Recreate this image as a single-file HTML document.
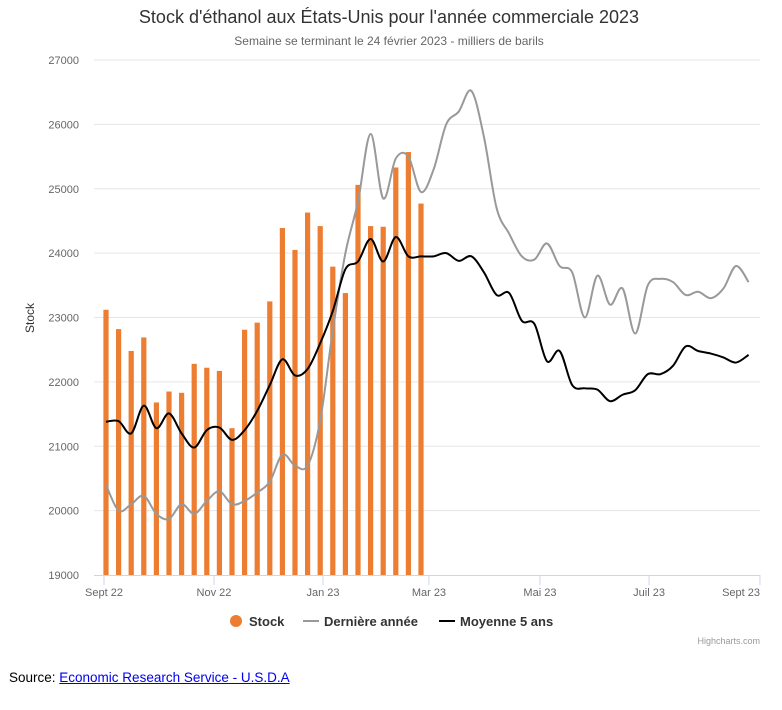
<!DOCTYPE html>
<html><head><meta charset="utf-8"><style>
body{margin:0;background:#fff;font-family:"Liberation Sans",sans-serif;}
#wrap{position:relative;width:782px;height:710px;}
svg text{font-family:"Liberation Sans",sans-serif;}
#src{position:absolute;left:9px;top:670px;font-size:13.5px;color:#000;}
#src a{color:#00e;text-decoration:underline;}
</style></head><body>
<div id="wrap">
<svg id="chart" width="782" height="660">
<text x="389" y="23" text-anchor="middle" font-size="18" fill="#333">Stock d'éthanol aux États-Unis pour l'année commerciale 2023</text>
<text x="389" y="45" text-anchor="middle" font-size="12" fill="#666">Semaine se terminant le 24 février 2023 - milliers de barils</text>
<text transform="translate(34,318) rotate(-90)" text-anchor="middle" font-size="12" fill="#333">Stock</text>
<g id="grid"></g><g id="bars"></g><g id="lines"></g><g id="axes"></g>
<g>
<g><circle cx="236" cy="621" r="6" fill="#ed7d31"/><text x="249" y="626" font-size="13" font-weight="bold" fill="#333">Stock</text></g>
<g><line x1="303" y1="621" x2="319" y2="621" stroke="#999" stroke-width="2"/><text x="324" y="626" font-size="13" font-weight="bold" fill="#333">Dernière année</text></g>
<g><line x1="439" y1="621" x2="455" y2="621" stroke="#000" stroke-width="2"/><text x="460" y="626" font-size="13" font-weight="bold" fill="#333">Moyenne 5 ans</text></g>
</g>
<text x="760" y="644" text-anchor="end" font-size="9" fill="#999">Highcharts.com</text>
</svg>
<div id="src">Source: <a>Economic Research Service - U.S.D.A</a></div>
</div>
<script>
const stock=[23120,22820,22480,22690,21680,21850,21830,22280,22220,22170,21280,22810,22920,23250,24390,24050,24630,24420,23790,23380,25060,24420,24410,25330,25570,24770];
const lastYear=[20400,20000,20100,20230,19950,19870,20100,19950,20150,20300,20100,20150,20280,20450,20870,20700,20700,21400,22800,24000,24800,25850,24850,25470,25500,24950,25300,26000,26200,26520,25800,24700,24300,23950,23900,24150,23800,23700,23000,23650,23200,23450,22750,23500,23600,23550,23350,23400,23300,23450,23800,23550];
const avg5=[21380,21390,21200,21630,21280,21510,21200,20980,21250,21290,21100,21250,21550,21950,22350,22100,22200,22600,23100,23750,23870,24220,23870,24250,23950,23950,23950,24000,23880,23950,23700,23350,23380,22950,22900,22320,22480,21950,21900,21880,21700,21800,21870,22120,22120,22250,22550,22480,22440,22380,22300,22420];
const yTicks=[19000,20000,21000,22000,23000,24000,25000,26000,27000];
const xLabels=["Sept 22","Nov 22","Jan 23","Mar 23","Mai 23","Juil 23","Sept 23"];
const xLabelIdx=[-0.16,8.57,17.22,25.63,34.44,43.1,51.9];
const NS="http://www.w3.org/2000/svg";
const X=i=>106+i*12.6;
const Y=v=>575-(v-19000)*64.375/1000;
function mk(t,a,p){const e=document.createElementNS(NS,t);for(const k in a)e.setAttribute(k,a[k]);p.appendChild(e);return e;}
const grid=document.getElementById('grid'),bars=document.getElementById('bars'),lines=document.getElementById('lines'),axes=document.getElementById('axes');
yTicks.forEach(v=>{
 if(v>19000){const g=mk('line',{x1:94,x2:760,y1:Y(v),y2:Y(v),stroke:'#e6e6e6'},grid);
 
 }
 const t=mk('text',{x:79,y:Y(v)+4,'text-anchor':'end','font-size':11,fill:'#666'},axes);t.textContent=v;
 
 
});
stock.forEach((v,i)=>{const r=mk('rect',{x:X(i)-2.6,y:Y(v),width:5.2,height:575-Y(v),fill:'#ed7d31'},bars);
 
 });
function path(d){const p=d.map((v,i)=>[X(i),Y(v)]);let s=`M${p[0][0]},${p[0][1]}`;
 for(let i=0;i<p.length-1;i++){const p0=p[i-1]||p[i],p1=p[i],p2=p[i+1],p3=p[i+2]||p2;
 s+=` C${p1[0]+(p2[0]-p0[0])/6},${p1[1]+(p2[1]-p0[1])/6} ${p2[0]-(p3[0]-p1[0])/6},${p2[1]-(p3[1]-p1[1])/6} ${p2[0]},${p2[1]}`;}return s;}
const l1=mk('path',{d:path(lastYear),fill:'none',stroke:'#999','stroke-width':2},lines);


const l2=mk('path',{d:path(avg5),fill:'none',stroke:'#000','stroke-width':2},lines);


const ax=mk('line',{x1:94,x2:760,y1:575.5,y2:575.5,stroke:'#ccd6eb'},axes);


xLabels.forEach((l,k)=>{const x=Math.min(X(xLabelIdx[k]),760);
 const tk=mk('line',{x1:x,x2:x,y1:575,y2:585,stroke:'#ccd6eb'},axes);
 
 
 const t=mk('text',{x:k==6?760:x,y:596,'text-anchor':k==6?'end':'middle','font-size':11,fill:'#666'},axes);t.textContent=l;
 
 });
</script>
</body></html>
